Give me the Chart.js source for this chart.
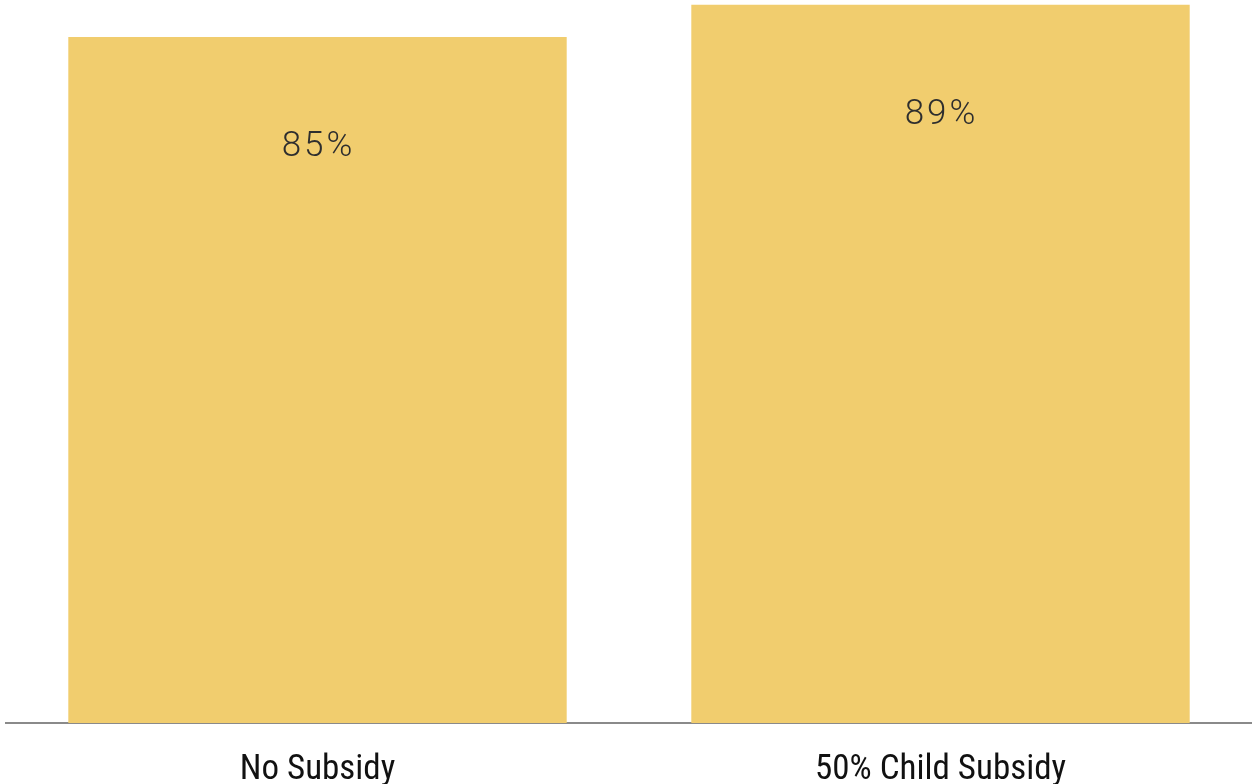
<!DOCTYPE html>
<html>
<head>
<meta charset="utf-8">
<script src="https://cdn.jsdelivr.net/npm/chart.js@4/dist/chart.umd.min.js"></script>
<style>
  html, body { margin: 0; padding: 0; background: #ffffff; }
  #wrap { width: 1252px; height: 784px; position: relative; }
</style>
</head>
<body>
<div id="wrap"><canvas id="chart"></canvas></div>
<script>
// Share of families, by subsidy scenario
const categories = ['No Subsidy', '50% Child Subsidy'];
const shares = [85, 89];
const valueLabels = ['85%', '89%'];

const barColor = '#F1CD6E';

// Writes each bar's percentage just inside the top of the bar
const valueLabelPlugin = {
  id: 'valueLabels',
  afterDatasetsDraw(chart) {
    const { ctx } = chart;
    const meta = chart.getDatasetMeta(0);
    ctx.save();
    ctx.font = '300 35px Roboto, "Liberation Sans", Arial, sans-serif';
    ctx.letterSpacing = '3px';
    ctx.fillStyle = '#2e2e2e';
    ctx.textAlign = 'center';
    ctx.textBaseline = 'middle';
    meta.data.forEach((bar, i) => {
      ctx.fillText(valueLabels[i], bar.x + 1, bar.y + 110);
    });
    ctx.restore();
  }
};

new Chart(document.getElementById('chart'), {
  type: 'bar',
  data: {
    labels: categories,
    datasets: [{
      data: shares,
      backgroundColor: barColor,
      borderWidth: 0,
      barPercentage: 0.8,
      categoryPercentage: 1.0
    }]
  },
  options: {
    responsive: true,
    maintainAspectRatio: false,
    animation: false,
    layout: { padding: { left: 6, right: -1, top: 0, bottom: -33 } },
    plugins: {
      legend: { display: false },
      tooltip: { enabled: false }
    },
    scales: {
      x: {
        grid: { display: false, drawTicks: false },
        border: { display: true, color: '#8a8a8a', width: 2 },
        ticks: {
          color: '#111111',
          padding: 26,
          font: { family: '"Liberation Sans Narrow", "Roboto Condensed", "Arial Narrow", sans-serif', size: 35, lineHeight: 1.2 }
        }
      },
      y: {
        display: false,
        min: 0,
        max: 89.6
      }
    }
  },
  plugins: [valueLabelPlugin]
});
</script>
</body>
</html>
